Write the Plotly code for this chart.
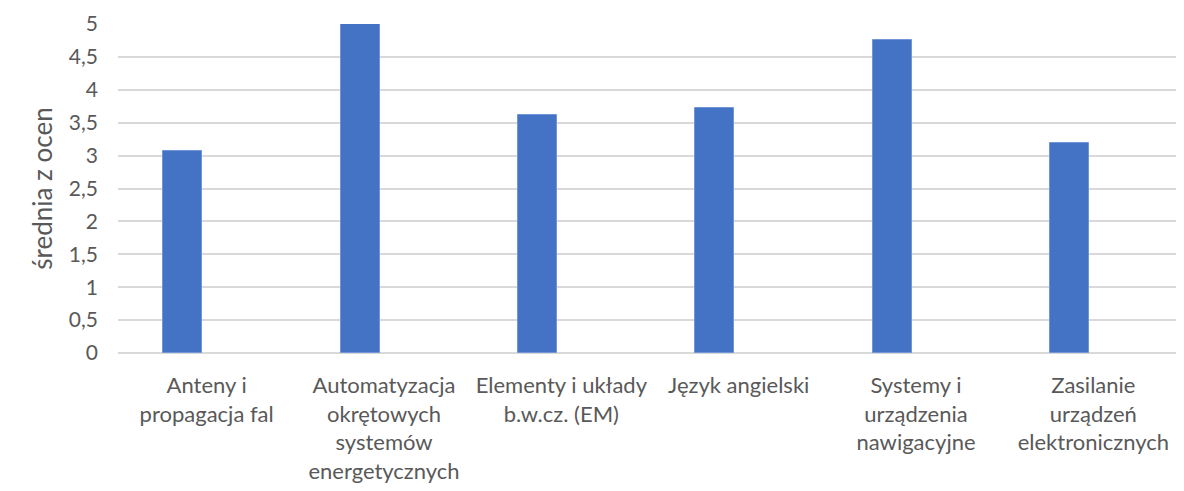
import plotly.graph_objects as go

categories = [
    "Anteny i<br>propagacja fal",
    "Automatyzacja<br>okrętowych<br>systemów<br>energetycznych",
    "Elementy i układy<br>b.w.cz. (EM)",
    "Język angielski",
    "Systemy i<br>urządzenia<br>nawigacyjne",
    "Zasilanie<br>urządzeń<br>elektronicznych",
]
values = [3.07, 5.0, 3.62, 3.73, 4.75, 3.19]
y_ticks = [0, 0.5, 1, 1.5, 2, 2.5, 3, 3.5, 4, 4.5, 5]

fig = go.Figure()
fig.add_trace(go.Bar(
    x=categories,
    y=values,
    width=0.22,
    offset=-0.244,
    marker=dict(color="#4472C4", line=dict(color="#7096d8", width=1)),
    showlegend=False,
))

font_family = "Lato, 'Open Sans', sans-serif"
fig.update_layout(
    width=1184,
    height=491,
    separators=", ",
    plot_bgcolor="white",
    paper_bgcolor="white",
    margin=dict(l=110, r=10, t=16, b=146),
    font=dict(family=font_family, color="#595959"),
    bargap=0,
)
fig.update_xaxes(
    showgrid=False,
    showline=False,
    ticks="",
    tickfont=dict(size=22, color="#595959"),
    ticklabelstandoff=17,
    automargin=False,
)
fig.update_yaxes(
    range=[0, 5],
    tickvals=y_ticks,
    showgrid=True,
    gridcolor="#d9d9d9",
    gridwidth=1.5,
    zeroline=True,
    zerolinecolor="#d9d9d9",
    zerolinewidth=1.5,
    tickfont=dict(size=21, color="#595959"),
    ticklabelstandoff=19,
    automargin=False,
    title=dict(text="średnia z ocen", font=dict(size=26, color="#595959"), standoff=8),
)

fig.write_html("out.html")
